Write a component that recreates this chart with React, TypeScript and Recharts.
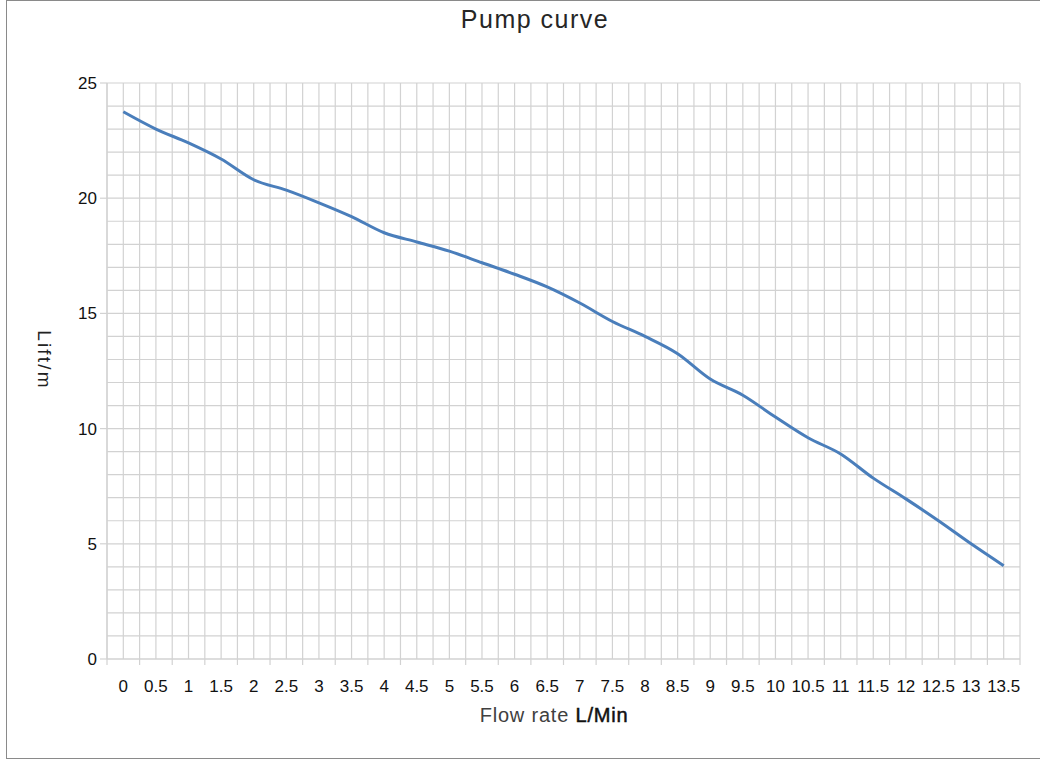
import React from 'react';
import { LineChart, Line, XAxis, YAxis, CartesianGrid } from 'recharts';

/* ---------- DATA ---------- */
const flowRate = [
  0, 0.5, 1, 1.5, 2, 2.5, 3, 3.5, 4, 4.5, 5, 5.5, 6, 6.5, 7, 7.5, 8, 8.5, 9,
  9.5, 10, 10.5, 11, 11.5, 12, 12.5, 13, 13.5,
];
const lift = [
  23.75, 23.0, 22.4, 21.7, 20.8, 20.35, 19.8, 19.2, 18.5, 18.1, 17.7, 17.2,
  16.7, 16.15, 15.45, 14.65, 14.0, 13.25, 12.15, 11.45, 10.5, 9.6, 8.9, 7.85,
  6.95, 6.0, 5.0, 4.05,
];
const liftTicks = [0, 5, 10, 15, 20, 25];

const chartData = flowRate.map((f, i) => ({ flow: f, lift: lift[i] }));

// grid: a line at every category centre and every boundary between them
const xGridTicks = flowRate.flatMap((f) => [f - 0.25, f]).concat(13.75);
const yGridTicks = Array.from({ length: 26 }, (_, i) => i);

const FONT = '"Liberation Sans", Arial, sans-serif';
const GRID = '#d2d2d2';

const XTick = (props: any) => {
  const { x, y, payload } = props;
  const v = payload.value as number;
  if (flowRate.includes(v)) {
    return (
      <text x={x} y={y + 33} textAnchor="middle" fontSize={17} fill="#111" fontFamily={FONT}>
        {v}
      </text>
    );
  }
  return <line x1={x} x2={x} y1={y} y2={y + 6} stroke={GRID} strokeWidth={1.2} />;
};

const YTick = (props: any) => {
  const { x, y, payload } = props;
  const v = payload.value as number;
  if (!liftTicks.includes(v)) return null;
  return (
    <g>
      <line x1={x - 7} x2={x} y1={y} y2={y} stroke={GRID} strokeWidth={1.2} />
      <text x={x - 10} y={y + 6} textAnchor="end" fontSize={17} fill="#111" fontFamily={FONT}>
        {v}
      </text>
    </g>
  );
};

export default function App() {
  return (
    <div
      style={{
        position: 'absolute',
        left: 0,
        top: 0,
        width: 1040,
        height: 760,
        overflow: 'hidden',
        background: '#fff',
      }}
    >
      <div
        style={{
          position: 'absolute',
          left: 6,
          top: 0,
          width: 1040,
          height: 759,
          boxSizing: 'border-box',
          borderTop: '1.5px solid #8a8a8a',
          borderLeft: '1.5px solid #8a8a8a',
          borderBottom: '1.5px solid #8a8a8a',
        }}
      />
      <div style={{ position: 'absolute', left: 0, top: 0 }}>
        <LineChart
          width={1040}
          height={760}
          data={chartData}
          margin={{ top: 83, right: 20, bottom: 61, left: 47 }}
        >
          <CartesianGrid stroke={GRID} strokeWidth={1.2} />
          <XAxis
            dataKey="flow"
            type="number"
            domain={[-0.25, 13.75]}
            ticks={xGridTicks}
            interval={0}
            height={40}
            tickSize={0}
            tickMargin={0}
            tickLine={false}
            axisLine={{ stroke: GRID, strokeWidth: 1.2 }}
            tick={<XTick />}
          />
          <YAxis
            type="number"
            domain={[0, 25]}
            ticks={yGridTicks}
            interval={0}
            width={60}
            tickSize={0}
            tickMargin={0}
            tickLine={false}
            axisLine={{ stroke: GRID, strokeWidth: 1.2 }}
            tick={<YTick />}
          />
          <Line
            type="monotone"
            dataKey="lift"
            stroke="#4a7ebb"
            strokeWidth={3}
            dot={false}
            activeDot={false}
            isAnimationActive={false}
          />
        </LineChart>
      </div>
      <svg
        width={1040}
        height={760}
        style={{ position: 'absolute', left: 0, top: 0, pointerEvents: 'none' }}
      >
        <text
          x={535}
          y={28}
          textAnchor="middle"
          fontSize={25}
          letterSpacing={1.5}
          fill="#262626"
          fontFamily={FONT}
        >
          Pump curve
        </text>
        <text
          x={554}
          y={722}
          textAnchor="middle"
          fontSize={20}
          letterSpacing={0.8}
          fill="#404040"
          fontFamily={FONT}
        >
          Flow rate{' '}
          <tspan fill="#111" stroke="#111" strokeWidth={0.5}>
            L/Min
          </tspan>
        </text>
        <text
          transform="translate(44, 360) rotate(90)"
          textAnchor="middle"
          dominantBaseline="central"
          fontSize={19}
          letterSpacing={2.2}
          fill="#222"
          fontFamily={FONT}
        >
          Lift/m
        </text>
      </svg>
    </div>
  );
}
